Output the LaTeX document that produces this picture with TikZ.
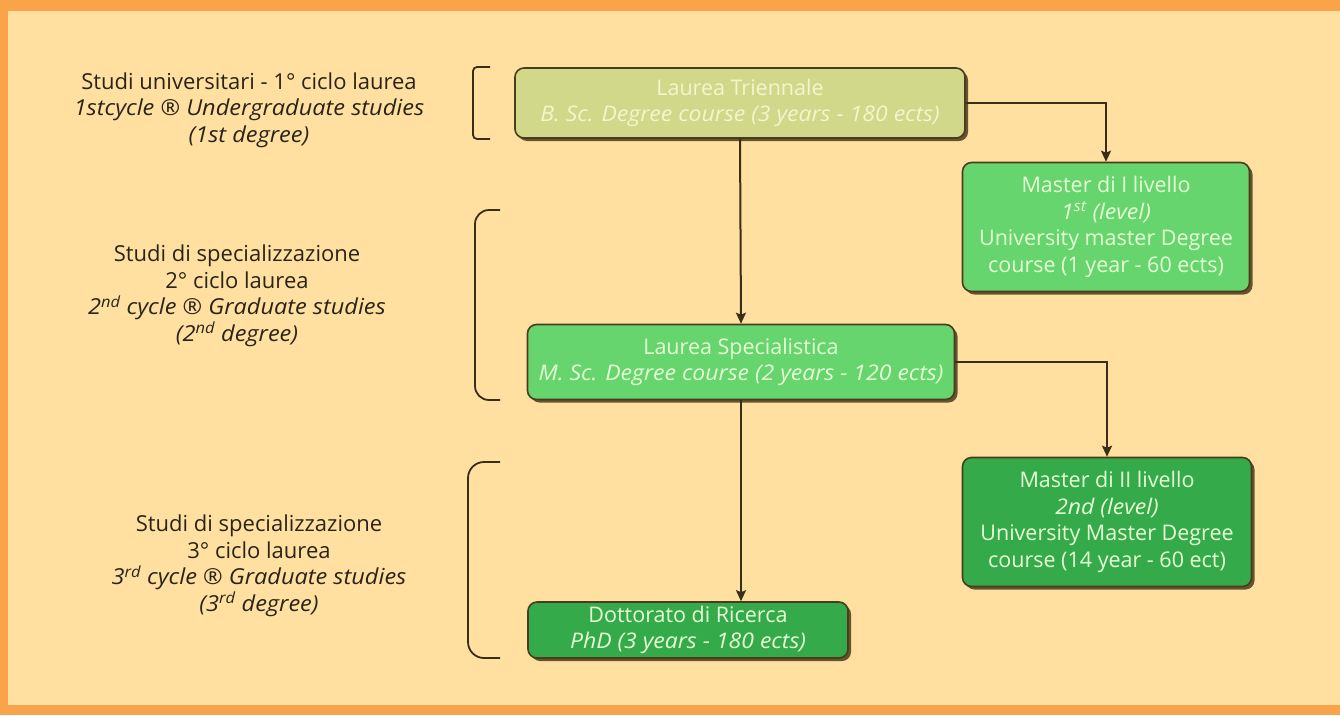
\documentclass[tikz,border=0pt]{standalone}
\usepackage{fontspec}
\setmainfont{Open Sans}[ItalicFeatures={FakeStretch=1.07}]
\usetikzlibrary{arrows.meta,shadows}
\definecolor{bgpeach}{HTML}{FFE0A0}
\definecolor{bandorange}{HTML}{F9A34B}
\definecolor{olivefill}{HTML}{D2D88A}
\definecolor{olivetext}{HTML}{F4F5CC}
\definecolor{lightgreen}{HTML}{66D56E}
\definecolor{darkgreen}{HTML}{35AA4B}
\definecolor{greentext}{HTML}{E6FFD6}
\definecolor{edgebrown}{HTML}{4A3C1C}
\definecolor{linebrown}{HTML}{3A2E18}
\definecolor{inktext}{HTML}{2A2418}
\tikzset{
  stagebox/.style={draw=edgebrown, line width=1.6pt, rounded corners=9pt, align=center,
    inner sep=0pt, font=\fontsize{21.5}{26.5}\selectfont,
    drop shadow={shadow xshift=3pt, shadow yshift=-3pt, fill=edgebrown, opacity=0.85}},
  olivebox/.style={stagebox, fill=olivefill, text=olivetext},
  lgbox/.style={stagebox, fill=lightgreen, text=greentext},
  dgbox/.style={stagebox, fill=darkgreen, text=greentext},
  sidetext/.style={align=center, text=inktext, font=\fontsize{22}{26.5}\selectfont, inner sep=0pt},
  flow/.style={draw=linebrown, line width=2pt, -{Stealth[length=11pt,width=10pt,inset=2pt]}},
  bracketline/.style={draw=linebrown, line width=1.8pt}
}
\begin{document}
\begin{tikzpicture}[x=1pt,y=-1pt]
\useasboundingbox (0,0) rectangle (1340,715);
\fill[bandorange] (0,0) rectangle (1340,715);
\fill[bgpeach] (8,11) rectangle (1340,705);

% left labels
\node[sidetext] (t1) at (249,110) {Studi universitari - 1° ciclo laurea\\
  \textit{1stcycle ® Undergraduate studies}\\ \textit{(1st degree)}};
\node[sidetext] (t2) at (237,296) {Studi di specializzazione\\ 2° ciclo laurea\\
  \textit{2\textsuperscript{nd} cycle ® Graduate studies}\\ \textit{(2\textsuperscript{nd} degree)}};
\node[sidetext] (t3) at (259,566) {Studi di specializzazione\\ 3° ciclo laurea\\
  \textit{3\textsuperscript{rd} cycle ® Graduate studies}\\ \textit{(3\textsuperscript{rd} degree)}};

% brackets
\draw[bracketline, rounded corners=4pt] (490,67) -- (473,67) -- (473,139) -- (490,139);
\draw[bracketline, rounded corners=14pt] (500,210) -- (475,210) -- (475,400) -- (500,400);
\draw[bracketline, rounded corners=16pt] (500,462) -- (468,462) -- (468,658) -- (500,658);

% boxes
\node[olivebox, minimum width=450pt, minimum height=70pt] (lt) at (740,103)
  {Laurea Triennale\\ \textit{B. Sc. Degree course (3 years - 180 ects)}};
\node[lgbox, minimum width=287pt, minimum height=129pt] (m1) at (1106,227)
  {Master di I livello\\ \textit{1\textsuperscript{st} (level)}\\ University master Degree\\ course (1 year - 60 ects)};
\node[lgbox, minimum width=427pt, minimum height=75pt] (ls) at (741,362)
  {Laurea Specialistica\\ \textit{M. Sc. Degree course (2 years - 120 ects)}};
\node[dgbox, minimum width=289pt, minimum height=129pt] (m2) at (1107,522)
  {Master di II livello\\ \textit{2nd (level)}\\ University Master Degree\\ course (14 year - 60 ect)};
\node[dgbox, minimum width=320pt, minimum height=56pt] (ph) at (688,630)
  {Dottorato di Ricerca\\ \textit{PhD (3 years - 180 ects)}};

% connectors
\draw[flow] (lt.south) -- (ls.north);
\draw[flow] (lt.east) -| (m1.north);
\draw[flow] (ls.east) -| (m2.north);
\draw[flow] (ls.south) -- (ls.south |- ph.north);
\end{tikzpicture}
\end{document}
